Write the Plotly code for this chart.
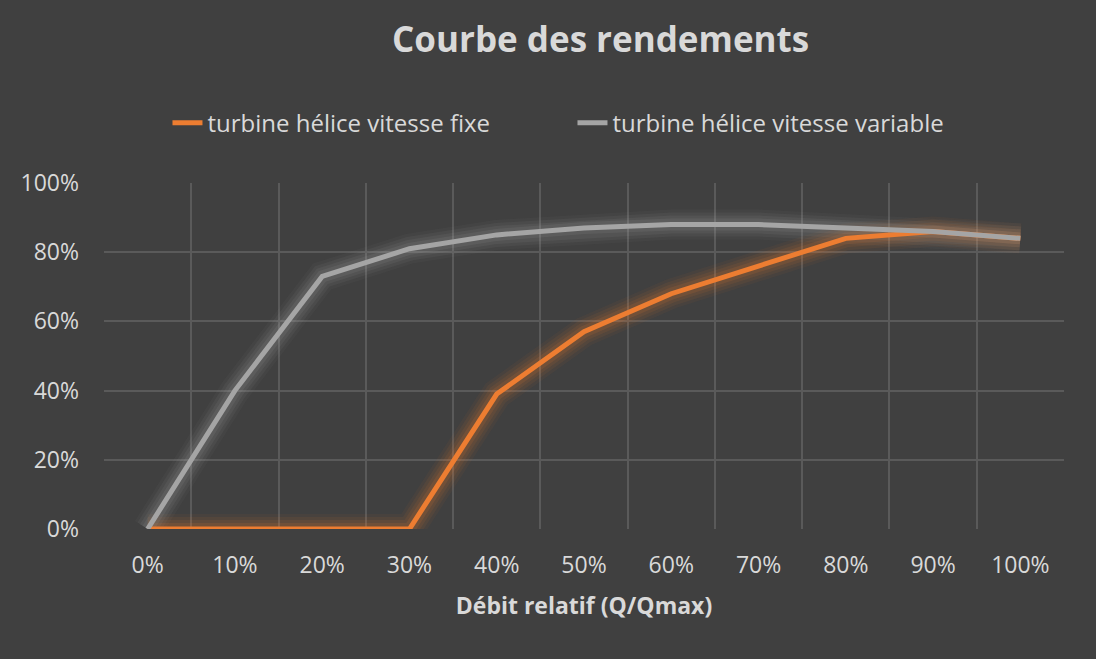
import plotly.graph_objects as go

categories = ["0%", "10%", "20%", "30%", "40%", "50%", "60%", "70%", "80%", "90%", "100%"]
fixe = [0.0, 0.0, 0.0, 0.0, 0.39, 0.57, 0.68, 0.76, 0.84, 0.86, 0.84]
variable = [0.0, 0.40, 0.73, 0.81, 0.85, 0.87, 0.88, 0.88, 0.87, 0.86, 0.84]
y_ticks = [0, 0.2, 0.4, 0.6, 0.8, 1.0]
y_labels = ["0%", "20%", "40%", "60%", "80%", "100%"]

BG = "#404040"
TXT = "#D9D9D9"
GRID = "#5A5A5A"
FONT = "Open Sans"
ORANGE = "#ED7D31"
GRAY = "#A5A5A5"

fig = go.Figure()

# soft glow layers
for width, alpha in [(30, 0.05), (24, 0.07), (18, 0.09), (12, 0.12)]:
    fig.add_trace(go.Scatter(x=categories, y=fixe, mode="lines",
                             line=dict(color=f"rgba(237,125,49,{alpha})", width=width),
                             hoverinfo="skip", showlegend=False))
    fig.add_trace(go.Scatter(x=categories, y=variable, mode="lines",
                             line=dict(color=f"rgba(165,165,165,{alpha})", width=width),
                             hoverinfo="skip", showlegend=False))

fig.add_trace(go.Scatter(x=categories, y=fixe, mode="lines",
                         name="turbine hélice vitesse fixe",
                         line=dict(color=ORANGE, width=5)))
fig.add_trace(go.Scatter(x=categories, y=variable, mode="lines",
                         name="turbine hélice vitesse variable",
                         line=dict(color=GRAY, width=5)))

fig.update_layout(
    width=1096, height=659,
    paper_bgcolor=BG, plot_bgcolor=BG,
    margin=dict(l=104, r=32, t=183, b=130),
    font=dict(family=FONT, color=TXT, size=24),
    title=dict(text="<b>Courbe des rendements</b>", x=0.548, xref="container", xanchor="center",
               y=0.94, yref="container", yanchor="middle",
               font=dict(family=FONT, size=35, color=TXT)),
    legend=dict(orientation="h", x=0.488, xanchor="center", y=1.173, yanchor="middle",
                font=dict(family=FONT, size=24, color=TXT), bgcolor="rgba(0,0,0,0)",
                entrywidth=360, entrywidthmode="pixels", tracegroupgap=0),
    xaxis=dict(type="category", range=[-0.5, 10.5], tickson="boundaries",
               showgrid=True, gridcolor=GRID, gridwidth=1.5, zeroline=False,
               showline=False, ticks="", ticklabelstandoff=20,
               tickfont=dict(family=FONT, size=23, color=TXT),
               title=dict(text="<b>Débit relatif (Q/Qmax)</b>", standoff=18,
                          font=dict(family=FONT, size=23, color=TXT))),
    yaxis=dict(range=[0, 1.0], tickvals=y_ticks, ticktext=y_labels,
               showgrid=True, gridcolor=GRID, gridwidth=1.5, zeroline=False,
               showline=False, ticks="", ticklabelstandoff=24,
               tickfont=dict(family=FONT, size=23, color=TXT)),
    showlegend=True,
)

fig.write_html("out.html", config={"displayModeBar": False},
               post_script="document.body.style.margin='0';document.body.style.background='#404040';")
